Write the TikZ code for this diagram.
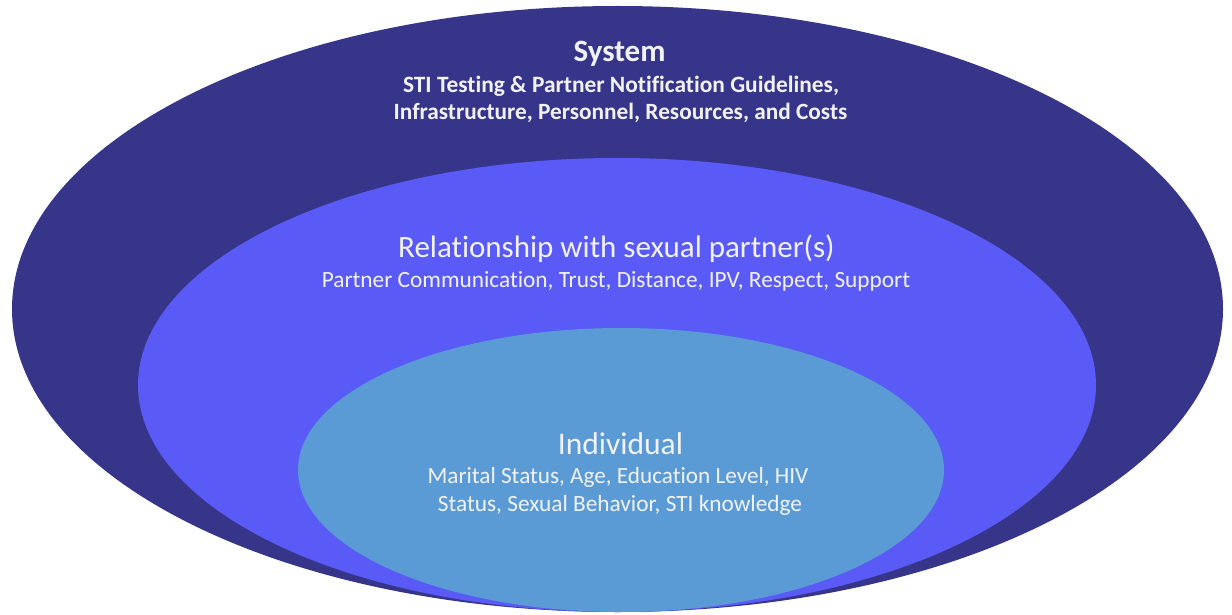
\documentclass[tikz,border=0pt]{standalone}
\usepackage{fontspec}
\setmainfont{Carlito}[Ligatures=NoCommon]
\usetikzlibrary{shapes.geometric}
\definecolor{sysblue}{HTML}{373589}
\definecolor{relblue}{HTML}{5A5AF6}
\definecolor{indblue}{HTML}{5B9BD5}
\definecolor{txtwhite}{HTML}{F2F2FA}
\tikzset{
  ring/.style={ellipse, inner sep=0pt, draw=none},
  lbl/.style={text=txtwhite, anchor=base, inner sep=0pt},
}
\begin{document}
\begin{tikzpicture}[x=1pt,y=-1pt]
\useasboundingbox (0,0) rectangle (1232,615);
\fill[white] (0,0) rectangle (1232,615);
\node[ring, fill=sysblue, minimum width=1211pt, minimum height=606pt] (sys) at (617.5,309) {};
\node[ring, fill=relblue, minimum width=958pt, minimum height=454pt] (rel) at (617,385) {};
\node[ring, fill=indblue, minimum width=646pt, minimum height=284pt] (ind) at (621,470) {};
\node[lbl, font=\bfseries\fontsize{31}{35}\selectfont] (syst) at (619.5,61.5) {System};
\node[lbl, font=\bfseries\fontsize{23.4}{27}\selectfont] (sys1) at (621,92.5) {STI Testing \& Partner Notification Guidelines,};
\node[lbl, font=\bfseries\fontsize{23.3}{27}\selectfont] (sys2) at (620.5,120) {Infrastructure, Personnel, Resources, and Costs};
\node[lbl, font=\fontsize{31}{35}\selectfont] (relt) at (616.5,257) {Relationship with sexual partner(s)};
\node[lbl, font=\fontsize{23.3}{27}\selectfont] (rel1) at (616,287.5) {Partner Communication, Trust, Distance, IPV, Respect, Support};
\node[lbl, font=\fontsize{31.5}{35}\selectfont] (indt) at (620.5,454) {Individual};
\node[lbl, font=\fontsize{23.2}{27}\selectfont] (ind1) at (618,483.5) {Marital Status, Age, Education Level, HIV};
\node[lbl, font=\fontsize{23.3}{27}\selectfont] (ind2) at (620,511) {Status, Sexual Behavior, STI knowledge};
\end{tikzpicture}
\end{document}
